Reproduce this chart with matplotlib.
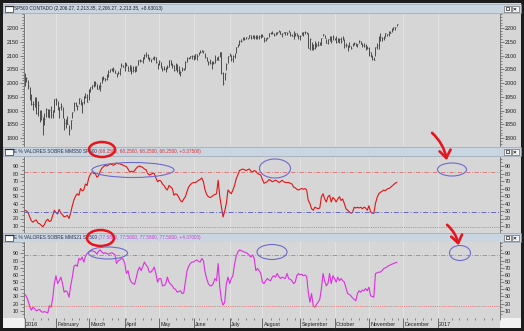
import numpy as np
import pandas as pd
import matplotlib
matplotlib.use("Agg")
import matplotlib.pyplot as plt
from matplotlib.patches import Rectangle, Ellipse, FancyArrowPatch
from matplotlib.transforms import Bbox, TransformedBbox, blended_transform_factory

plt.rcParams['font.family'] = ['Liberation Sans', 'DejaVu Sans']

# ---- data (daily, trading days from 2016-01-04 to 2016-11-25) ----
holidays = ['2016-01-18', '2016-02-15', '2016-03-25', '2016-05-30', '2016-07-04',
            '2016-09-05', '2016-11-24', '2016-12-26', '2017-01-02', '2017-01-16']

closes = [
    2012.66, 2016.71, 1990.26, 1943.09, 1922.03, 1923.67, 1938.68, 1890.28, 1921.84, 1880.33,
    1881.33, 1859.33, 1868.99, 1906.90, 1877.08, 1903.63, 1882.95, 1893.36, 1940.24,
    1939.38, 1903.03, 1912.53, 1915.45, 1880.05, 1853.44, 1852.21, 1851.86, 1829.08, 1864.78,
    1895.58, 1926.82, 1917.83, 1917.78, 1945.50, 1921.27, 1929.80, 1951.70, 1948.05, 1932.23,
    1978.35, 1986.45, 1993.40, 1999.99, 2001.76, 1979.26, 1989.26, 1989.57, 2022.19, 2019.64,
    2015.93, 2027.22, 2040.59, 2049.58, 2051.60, 2049.80, 2036.71, 2035.94, 2037.05, 2055.01,
    2063.95, 2059.74,
    2072.78, 2066.13, 2045.17, 2066.66, 2041.91, 2047.60, 2041.99, 2061.72, 2082.42, 2082.78,
    2080.73, 2094.34, 2100.80, 2102.40, 2091.48, 2091.58, 2087.79, 2091.70, 2095.15, 2075.81, 2065.30,
    2081.43, 2063.37, 2051.12, 2050.63, 2057.14, 2058.69, 2084.39, 2064.46, 2064.11, 2046.61,
    2066.66, 2047.21, 2047.63, 2040.04, 2052.32, 2048.04, 2076.06, 2090.54, 2090.10, 2099.06, 2096.95,
    2099.33, 2105.26, 2099.13, 2109.41, 2112.13, 2119.12, 2115.48, 2096.07, 2079.06, 2075.32,
    2071.50, 2077.99, 2071.22, 2083.25, 2088.90, 2085.45, 2113.32, 2037.41, 2000.54, 2036.09,
    2070.77, 2098.86,
    2102.95, 2088.55, 2099.73, 2097.90, 2129.90, 2137.16, 2152.14, 2152.43, 2163.75, 2161.74,
    2166.89, 2163.78, 2173.02, 2165.17, 2175.03, 2168.48, 2169.18, 2166.58, 2170.06, 2173.60,
    2170.84, 2157.03, 2163.79, 2164.25, 2182.87, 2180.89, 2181.74, 2175.49, 2185.79, 2184.05,
    2190.15, 2178.15, 2182.22, 2187.02, 2183.87, 2182.64, 2186.90, 2175.44, 2172.47, 2169.04,
    2180.38, 2176.12, 2170.95,
    2170.86, 2179.98, 2186.48, 2186.16, 2181.30, 2127.81, 2159.04, 2127.02, 2125.77, 2147.26,
    2139.16, 2139.12, 2139.76, 2163.12, 2177.18, 2164.69, 2146.10, 2159.93, 2171.37, 2151.13, 2168.27,
    2161.20, 2150.49, 2159.73, 2160.77, 2153.74, 2163.66, 2136.73, 2139.18, 2132.55, 2132.98,
    2126.50, 2139.60, 2144.29, 2141.34, 2141.16, 2151.33, 2143.16, 2139.43, 2133.04, 2126.41, 2126.15,
    2111.72, 2097.94, 2088.66, 2085.18, 2131.52, 2139.56, 2163.26, 2167.48, 2164.45, 2164.20,
    2180.39, 2176.94, 2187.12, 2181.90, 2198.18, 2202.94, 2204.72, 2213.35]

highs = [
    2038.2, 2021.9, 2011.7, 1985.3, 1960.4, 1935.7, 1947.4, 1950.3, 1934.5, 1900.4,
    1901.4, 1876.1, 1889.9, 1908.8, 1906.3, 1905.0, 1916.9, 1902.6, 1940.3,
    1947.2, 1933.8, 1913.1, 1927.4, 1913.9, 1873.9, 1868.3, 1881.6, 1847.0, 1864.8,
    1895.8, 1930.7, 1930.0, 1918.8, 1946.7, 1941.2, 1932.1, 1951.8, 1962.9, 1958.6,
    1978.4, 1986.5, 1993.7, 2009.1, 2006.1, 1996.7, 1992.7, 2005.1, 2022.4, 2024.6,
    2017.2, 2032.0, 2046.0, 2052.4, 2053.9, 2056.6, 2048.3, 2036.0, 2042.7, 2055.9,
    2072.2, 2067.0,
    2075.1, 2074.0, 2061.9, 2067.3, 2062.9, 2060.6, 2062.3, 2062.9, 2083.2, 2087.8,
    2083.9, 2094.7, 2104.1, 2111.1, 2103.9, 2094.3, 2088.7, 2096.0, 2099.9, 2094.0, 2073.9,
    2084.9, 2076.2, 2056.5, 2060.2, 2057.7, 2067.2, 2084.9, 2084.6, 2073.6, 2067.0,
    2071.9, 2070.8, 2060.6, 2044.2, 2058.4, 2055.9, 2079.2, 2094.3, 2094.7, 2099.1, 2103.5,
    2100.6, 2105.3, 2104.4, 2113.4, 2119.2, 2120.6, 2117.7, 2109.0, 2095.6, 2081.0,
    2086.0, 2079.6, 2079.0, 2100.7, 2093.7, 2099.7, 2113.4, 2112.9, 2038.4, 2036.1,
    2073.0, 2098.9,
    2108.7, 2100.7, 2100.1, 2109.1, 2131.7, 2143.2, 2155.4, 2159.0, 2168.9, 2169.1,
    2168.9, 2164.6, 2175.6, 2174.6, 2175.6, 2173.6, 2173.5, 2174.0, 2173.5, 2177.1,
    2178.3, 2168.5, 2164.0, 2168.2, 2182.9, 2185.4, 2187.7, 2183.4, 2185.9, 2186.3,
    2193.8, 2187.7, 2183.0, 2187.1, 2185.0, 2185.2, 2193.4, 2186.8, 2179.0, 2187.9,
    2183.5, 2182.2, 2175.1,
    2173.6, 2184.9, 2186.6, 2187.9, 2184.9, 2181.0, 2163.3, 2150.5, 2141.3, 2151.3,
    2146.5, 2153.6, 2150.8, 2165.1, 2179.2, 2173.8, 2158.5, 2161.1, 2172.4, 2172.7, 2175.3,
    2164.4, 2169.6, 2163.9, 2162.9, 2165.9, 2169.6, 2161.6, 2145.4, 2138.2, 2149.2,
    2135.6, 2144.4, 2148.4, 2147.2, 2142.6, 2154.8, 2151.4, 2145.7, 2147.1, 2140.7, 2133.3,
    2131.5, 2111.8, 2102.6, 2095.0, 2132.0, 2146.9, 2170.1, 2182.3, 2165.9, 2171.4,
    2180.8, 2179.2, 2188.1, 2189.9, 2198.7, 2204.8, 2204.8, 2213.4]

lows = [
    1989.7, 2004.2, 1979.1, 1938.8, 1918.5, 1901.1, 1914.4, 1886.7, 1878.9, 1857.8,
    1864.6, 1812.3, 1848.9, 1877.2, 1875.9, 1872.5, 1872.7, 1873.7, 1894.6,
    1920.0, 1901.1, 1872.7, 1900.5, 1872.7, 1828.5, 1834.9, 1850.3, 1810.1, 1833.2,
    1871.4, 1898.4, 1915.1, 1902.2, 1924.9, 1920.9, 1891.0, 1925.4, 1945.8, 1931.8,
    1937.1, 1969.0, 1978.0, 1986.8, 1989.4, 1977.4, 1979.8, 1969.2, 2000.8, 2012.0,
    2005.8, 2010.1, 2022.5, 2041.9, 2043.1, 2040.6, 2034.9, 2022.5, 2031.9, 2028.1,
    2057.5, 2058.0,
    2043.1, 2062.6, 2042.6, 2043.9, 2033.8, 2041.7, 2041.2, 2042.6, 2064.0, 2078.1,
    2078.9, 2073.0, 2086.1, 2096.0, 2088.9, 2081.2, 2077.5, 2085.8, 2082.3, 2071.5, 2052.3,
    2065.0, 2054.1, 2043.9, 2045.8, 2039.5, 2052.1, 2060.0, 2064.0, 2053.1, 2045.4,
    2046.6, 2041.0, 2034.5, 2025.9, 2043.0, 2047.4, 2051.1, 2078.0, 2087.5, 2091.0, 2088.7,
    2085.1, 2088.6, 2085.4, 2100.3, 2110.0, 2111.8, 2107.7, 2089.6, 2078.9, 2064.1,
    2069.3, 2050.4, 2070.0, 2072.8, 2083.0, 2084.4, 2094.8, 2032.1, 1991.7, 2009.2,
    2047.0, 2071.4,
    2097.0, 2080.1, 2075.0, 2089.4, 2110.1, 2131.6, 2139.6, 2149.0, 2155.8, 2155.7,
    2159.1, 2159.0, 2163.6, 2159.8, 2163.2, 2161.4, 2160.2, 2159.1, 2160.0, 2163.5,
    2166.2, 2149.2, 2152.5, 2159.1, 2168.0, 2177.9, 2178.6, 2172.0, 2175.2, 2179.4,
    2186.0, 2177.5, 2168.5, 2180.5, 2175.2, 2175.1, 2184.6, 2171.3, 2169.7, 2160.4,
    2170.2, 2170.4, 2161.1,
    2157.8, 2173.6, 2170.7, 2179.1, 2177.5, 2127.5, 2119.1, 2120.3, 2119.9, 2122.4,
    2131.2, 2135.9, 2139.2, 2139.6, 2170.0, 2163.3, 2145.0, 2141.6, 2151.8, 2145.2, 2156.5,
    2154.8, 2144.8, 2150.6, 2144.9, 2144.9, 2156.1, 2128.8, 2132.8, 2114.7, 2132.0,
    2124.4, 2135.5, 2138.2, 2133.4, 2130.1, 2146.9, 2141.0, 2131.6, 2132.5, 2119.4, 2125.5,
    2097.9, 2094.0, 2085.2, 2083.8, 2100.0, 2123.6, 2125.4, 2151.2, 2152.5, 2156.1,
    2166.4, 2172.2, 2170.9, 2180.4, 2186.4, 2194.5, 2192.0, 2206.3]

# % of stocks above the 50-session moving average (red)
pct_mm50 = [
    31, 30, 28, 22, 17, 15, 17, 18, 14, 13, 11, 9, 12, 17, 19, 16, 17, 24, 31,
    28, 26, 32, 27, 25, 22, 23, 24, 20, 28, 37, 45, 50, 53, 51, 60, 57, 58, 66, 64,
    74, 79, 82, 80, 80, 75, 77, 83, 87, 89, 91, 90, 91, 93, 92, 91, 92, 94, 93, 93, 92, 91,
    90, 89, 86, 82, 83, 82, 84, 87, 89, 90, 89, 88, 86, 85, 80, 78, 79, 80, 80, 74, 69,
    71, 70, 66, 64, 60, 58, 64, 62, 60, 51, 53, 52, 48, 44, 42, 46, 49, 56, 62, 65, 67,
    68, 68, 69, 71, 72, 74, 69, 58, 52, 49, 48, 49, 51, 52, 53, 71, 49, 35, 22, 30, 40, 58,
    55, 53, 58, 64, 73, 78, 84, 85, 86, 85, 84, 85, 86, 83, 82, 84, 83, 80, 79, 78,
    72, 67, 68, 69, 72, 71, 69, 70, 71, 70, 68, 69, 71, 69, 68, 68, 68, 67, 66, 62, 61, 59, 58,
    59, 60, 59, 60, 58, 44, 40, 33, 31, 35, 34, 33, 34, 49, 53, 46, 42, 49, 51, 42, 48,
    46, 42, 46, 49, 44, 46, 40, 33, 31, 29, 27, 28, 35, 34, 35, 34, 35, 33, 35, 34, 31,
    37, 29, 27, 27, 40, 48, 53, 55, 56, 58, 57, 59, 60, 61, 63, 65, 67, 68.25]

# % of stocks above the 21-session moving average (magenta)
pct_mm21 = [
    33, 30, 24, 16, 11, 15, 13, 10, 11, 12, 9, 8, 9, 8, 7, 17, 15, 27, 48,
    59, 48, 52, 57, 48, 36, 38, 36, 29, 45, 57, 72, 74, 72, 83, 81, 85, 78, 86, 90,
    92, 93, 94, 93, 92, 89, 93, 95, 92, 90, 91, 90, 89, 90, 91, 90, 88, 76, 80, 81, 83, 82,
    76, 62, 66, 55, 50, 48, 47, 56, 66, 71, 66, 72, 78, 74, 71, 64, 64, 67, 71, 62, 50,
    55, 55, 45, 45, 48, 57, 50, 47, 45, 41, 40, 36, 37, 38, 34, 35, 50, 66, 72, 76, 78,
    78, 80, 81, 79, 78, 83, 80, 64, 55, 48, 45, 45, 48, 55, 52, 76, 43, 25, 18, 22, 48, 57,
    48, 55, 59, 75, 86, 92, 95, 94, 93, 92, 91, 90, 87, 85, 88, 83, 66, 69, 66, 62,
    50, 48, 52, 55, 53, 52, 57, 59, 57, 62, 58, 55, 57, 56, 55, 62, 55, 54, 52, 48, 50, 59, 62,
    60, 61, 59, 60, 58, 36, 22, 34, 17, 15, 19, 22, 26, 41, 62, 52, 45, 48, 62, 48, 59,
    55, 50, 57, 52, 55, 52, 50, 42, 34, 33, 31, 28, 26, 24, 34, 38, 36, 39, 38, 41, 38,
    43, 31, 30, 29, 62, 63, 64, 64, 66, 69, 70, 71, 73, 74, 75, 76, 77, 77.58]

title1 = "SP500 CONTADO (2,206.27, 2,213.35, 2,206.27, 2,213.35, +8.63013)"
title2a = "E % VALORES SOBRE MMS50 SP500"
title2b = " (68.2500, 68.2500, 68.2500, 68.2500, +3.37500)"
title3a = "E % VALORES SOBRE MMS21 SP500"
title3b = " (77.5800, 77.5800, 77.5800, 77.5800, +4.37000)"

month_names = ["2016", "February", "March", "April", "May", "June", "July", "August",
               "September", "October", "November", "December", "2017"]

# ---- calendar ----
days = pd.bdate_range('2016-01-04', '2017-02-28', freq='C', holidays=holidays)
x = np.arange(len(closes))
mstart = [i for i in range(len(days)) if i == 0 or days[i].month != days[i - 1].month][:13]
wstart = [i for i in range(1, len(days)) if days[i].weekday() < days[i - 1].weekday()]

W, H = 524, 331
PANEL = '#d6d6d6'
BAR = '#c9d5e1'
fig = plt.figure(figsize=(W / 100, H / 100), dpi=100)
fig.patch.set_facecolor('#1c1c1c')

bg = fig.add_axes([0, 0, 1, 1], zorder=0)
bg.set_xlim(0, W)
bg.set_ylim(H, 0)
bg.axis('off')
bg.add_patch(Rectangle((3, 3), 518, 325, fc=PANEL, ec='none'))
bg.add_patch(Rectangle((3, 318), 21, 10, fc='#f2f2f2', ec='none'))
bg.add_patch(Rectangle((500, 318), 21, 10, fc='#f2f2f2', ec='none'))

FS = 3.4      # title text
TFS = 3.9     # tick labels
for (y0, y1) in [(4, 13), (147, 156), (233, 242)]:
    bg.add_patch(Rectangle((3, y0), 518, y1 - y0, fc=BAR, ec='#8e9cac', lw=0.4))
    bg.add_patch(Rectangle((4.5, y0 + 2), 8, 5.5, fc='white', ec='#303030', lw=0.5))
    bg.plot([4.5, 12.5], [y0 + 2.2, y0 + 2.2], color='#303030', lw=0.9)
    for bx, glyph in [(503.5, 'box'), (511.5, 'x')]:
        bg.add_patch(Rectangle((bx, y0 + 1.5), 7, 6.5, fc='#f4f4f4', ec='#505050', lw=0.4))
        if glyph == 'box':
            bg.add_patch(Rectangle((bx + 2, y0 + 3), 3.5, 3.2, fc='none', ec='#202020', lw=0.5))
        else:
            bg.text(bx + 3.5, y0 + 4.9, '×', fontsize=4.5, ha='center', va='center',
                    color='#101010', fontweight='bold')

bg.text(14, 8.8, title1, fontsize=FS, va='center', ha='left', color='#202020')
t2 = bg.text(14, 151.8, title2a, fontsize=FS, va='center', ha='left', color='#303050')
bg.annotate(title2b, xy=(1, 0.5), xycoords=t2, va='center', ha='left', fontsize=FS, color='#e03030')
t3 = bg.text(14, 237.8, title3a, fontsize=FS, va='center', ha='left', color='#303050')
bg.annotate(title3b, xy=(1, 0.5), xycoords=t3, va='center', ha='left', fontsize=FS, color='#d040d0')


def px_axes(x0, y0, x1, y1):
    a = fig.add_axes([x0 / W, 1 - y1 / H, (x1 - x0) / W, (y1 - y0) / H], zorder=1)
    a.set_facecolor(PANEL)
    a.set_xlim(-0.5, 258.2)
    for s in ['top', 'bottom']:
        a.spines[s].set_visible(False)
    for s in ['left', 'right']:
        a.spines[s].set_color('#6a6a6a')
        a.spines[s].set_linewidth(0.6)
    a.set_xticks(mstart)
    a.set_xticks(wstart, minor=True)
    a.grid(axis='x', which='major', color='#e8e8e8', lw=0.5)
    a.tick_params(axis='x', which='both', length=0, labelbottom=False)
    a.tick_params(axis='y', which='both', left=True, right=True, labelleft=True,
                  labelright=True, labelsize=TFS, width=0.4, color='#404040', pad=1.0,
                  labelcolor='#202020')
    a.tick_params(axis='y', which='major', length=2.6)
    a.tick_params(axis='y', which='minor', length=1.3)
    return a


ax1 = px_axes(24, 14, 500, 146)
ax2 = px_axes(24, 157, 500, 232)
ax3 = px_axes(24, 242, 500, 318)

# SP500 daily bars
ax1.vlines(x, lows, highs, color='#4c4c4c', lw=0.7)
ax1.hlines(closes, x, x + 0.55, color='#4c4c4c', lw=0.5)
ax1.set_ylim(1771, 2251)
ax1.set_yticks(np.arange(1800, 2201, 50))
ax1.set_yticks(np.arange(1780, 2251, 10), minor=True)

# % above MMS50
ax2.plot(x, pct_mm50, color='#e31414', lw=0.8)
ax2.axhline(82.5, color='#e06a6a', lw=0.6, ls=(0, (5, 2, 1, 2)))
ax2.axhline(28.5, color='#6666c8', lw=0.7, ls=(0, (5, 2, 1, 2)))
ax2.axhline(9, color='#e06a6a', lw=0.6, ls=(0, (1, 1.2)))
ax2.set_ylim(2, 102)
ax2.set_yticks(np.arange(10, 91, 10))
ax2.set_yticks(np.arange(5, 101, 5), minor=True)

# % above MMS21
ax3.plot(x, pct_mm21, color='#dd2ee0', lw=0.8)
ax3.axhline(88.5, color='#e06a6a', lw=0.6, ls=(0, (5, 2, 1, 2)))
ax3.axhline(16.5, color='#e06a6a', lw=0.6, ls=(0, (1, 1.2)))
ax3.set_ylim(0, 106)
ax3.set_yticks(np.arange(10, 91, 10))
ax3.set_yticks(np.arange(5, 106, 5), minor=True)

# month axis under the last panel
ax3.tick_params(axis='x', which='major', length=7.5, width=0.5, color='#404040', direction='out')
ax3.tick_params(axis='x', which='minor', length=1.6, width=0.4, color='#404040', direction='out')
tr = blended_transform_factory(ax3.transData, ax3.transAxes)
clip = TransformedBbox(Bbox([[0, -0.3], [1, 0]]), ax3.transAxes)
for i, name in zip(mstart, month_names):
    t = ax3.text(i + 0.8, -0.08, name, transform=tr, fontsize=TFS, ha='left', va='center',
                 color='#202020', clip_on=True)
    t.set_clip_box(clip)

# hand-drawn marks on top
fg = fig.add_axes([0, 0, 1, 1], zorder=5)
fg.set_xlim(0, W)
fg.set_ylim(H, 0)
fg.axis('off')
fg.patch.set_alpha(0)
RED = '#e8141c'
BLUE = '#6b6bd0'
fg.add_patch(Ellipse((102, 149.5), 26, 15, fc='none', ec=RED, lw=1.8))
fg.add_patch(Ellipse((100.5, 238), 27, 16, fc='none', ec=RED, lw=1.8))
for a_from, a_to in [((430, 131), (447, 163)), ((445, 223), (459, 248))]:
    fg.add_patch(FancyArrowPatch(a_from, a_to, arrowstyle='->,head_length=0.55,head_width=0.4',
                                 connectionstyle='arc3,rad=-0.2', mutation_scale=10,
                                 color=RED, lw=1.9))
for (cx, cy, w, h) in [(133, 170, 82, 15), (275, 168.5, 31, 19), (452, 169.5, 29, 13),
                       (108, 253, 39, 12), (272, 252, 30, 15), (460, 253, 21, 15)]:
    fg.add_patch(Ellipse((cx, cy), w, h, fc='none', ec=BLUE, lw=0.8))

fig.savefig('out.png', dpi=100, facecolor=fig.get_facecolor())
